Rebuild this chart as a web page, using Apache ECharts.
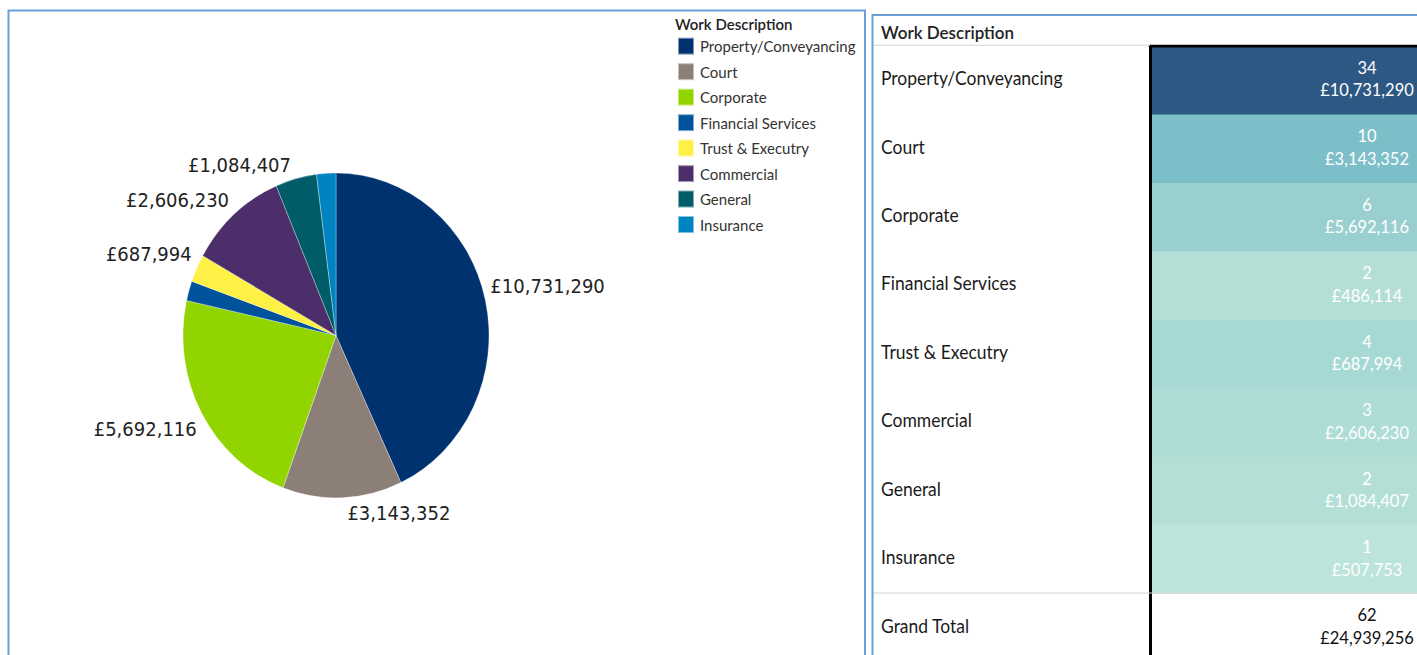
<!DOCTYPE html>
<html>
<head>
<meta charset="utf-8">
<title>Work Description</title>
<script src="https://cdn.jsdelivr.net/npm/echarts@6/dist/echarts.min.js"></script>
<style>
  html, body { margin: 0; padding: 0; background: #fff; overflow: hidden; }
  #wrap { width: 1417px; height: 655px; overflow: hidden; }
  /* the dashboard is laid out on a 617px-tall board and stretched to the window height;
     the board runs past the right and bottom edges, where the table is cut off */
  #chart { width: 1600px; height: 650px; transform: scaleY(1.0616); transform-origin: 0 0; }
</style>
</head>
<body>
<div id="wrap"><div id="chart"></div></div>
<script>
// Work types, fee totals (GBP) and matter counts
const categories = ['Property/Conveyancing', 'Court', 'Corporate', 'Financial Services',
                    'Trust & Executry', 'Commercial', 'General', 'Insurance'];
const amounts = [10731290, 3143352, 5692116, 486114, 687994, 2606230, 1084407, 507753];
const counts = [34, 10, 6, 2, 4, 3, 2, 1];
const totalLabel = 'Grand Total';

// Slice colours, one per work type
const sliceColors = ['#00326f', '#8b7f78', '#92d400', '#00539b', '#fff046', '#4b2e6a', '#005c69', '#0083c1'];
// Slices too thin to carry a label
const unlabelled = ['Financial Services', 'Insurance'];

const money = n => '£' + String(n).replace(/\B(?=(\d{3})+(?!\d))/g, ',');
const totalAmount = amounts.reduce((a, b) => a + b, 0);
const totalCount = counts.reduce((a, b) => a + b, 0);

// Slices start at 12 o'clock and run clockwise; a slice whose middle lies in the
// upper half gets its label lifted above the rim point, the others hang below it.
const sliceInUpperHalf = (() => {
  let acc = 0;
  return amounts.map(v => {
    const mid = (acc + v / 2) / totalAmount * 2 * Math.PI;
    acc += v;
    return Math.cos(mid) > 0;
  });
})();
const LABEL_LIFT = 13;
const LABEL_DROP = 15;

const UI_FONT = 'Lato, "Noto Sans", sans-serif';

// Table geometry
const TABLE_LEFT = 872.5;
const COL_X = 1150;
const ROW_TOP = 43.6;
const ROW_H = 64.5;

const chart = echarts.init(document.getElementById('chart'), null, { renderer: 'svg' });

chart.setOption({
  animation: false,
  backgroundColor: '#fff',
  title: [
    { text: 'Work Description', left: 675, top: 15, padding: 0,
      textStyle: { fontFamily: UI_FONT, fontSize: 15, fontWeight: 600, color: '#222' } },
    { text: 'Work Description', left: 881, top: 21.5, padding: 0,
      textStyle: { fontFamily: UI_FONT, fontSize: 17, fontWeight: 600, color: '#222' } }
  ],
  legend: {
    data: categories,
    orient: 'vertical',
    left: 677,
    top: 34.5,
    padding: 0,
    icon: 'rect',
    itemWidth: 16,
    itemHeight: 16,
    itemGap: 6,
    selectedMode: false,
    textStyle: { fontFamily: UI_FONT, fontSize: 15, color: '#333', padding: [0, 0, 0, 1] }
  },
  grid: { left: COL_X, top: ROW_TOP, width: 434, height: ROW_H * 9 },
  xAxis: {
    type: 'category',
    data: ['Amount'],
    position: 'top',
    z: 10,
    axisLine: { lineStyle: { color: '#000', width: 2.5 } },
    axisTick: { show: false },
    axisLabel: { show: false },
    splitLine: { show: false }
  },
  yAxis: {
    type: 'category',
    data: categories.concat([totalLabel]),
    inverse: true,
    z: 10,
    axisLine: { lineStyle: { color: '#000', width: 3 } },
    axisTick: { show: false },
    splitLine: { show: false },
    axisLabel: {
      align: 'left',
      margin: COL_X - 881,
      formatter: v => '{row|' + v + '}',
      rich: {
        row: {
          fontFamily: UI_FONT,
          fontSize: 17.5,
          color: '#1a1a1a',
          padding: [0, 0, 5, 0]
        }
      }
    }
  },
  visualMap: {
    type: 'piecewise',
    show: false,
    seriesIndex: 1,
    dimension: 2,
    pieces: [
      { gte: 20, color: '#2e5884' },
      { gte: 8, lt: 20, color: '#7dbfc8' },
      { gte: 5, lt: 8, color: '#9acfcf' },
      { gte: 4, lt: 5, color: '#a7d9d4' },
      { gte: 3, lt: 4, color: '#aedcd6' },
      { gte: 2, lt: 3, color: '#b4dfd7' },
      { lt: 2, color: '#bde4da' }
    ]
  },
  series: [
    {
      type: 'pie',
      center: [336, 316],
      radius: 153,
      startAngle: 90,
      clockwise: true,
      silent: true,
      avoidLabelOverlap: false,
      itemStyle: { borderColor: 'rgba(255,255,255,0.5)', borderWidth: 0.6 },
      label: {
        position: 'outside',
        fontFamily: '"DejaVu Sans", Verdana, sans-serif',
        fontSize: 18,
        color: '#222',
        formatter: p => money(p.value)
      },
      labelLine: { show: false, length: 0, length2: 0 },
      // labels sit beside the rim point: above it on the upper half, below it on the lower half
      labelLayout: p => ({
        dy: sliceInUpperHalf[p.dataIndex] ? -LABEL_LIFT : LABEL_DROP,
        hideOverlap: false
      }),
      data: categories.map((name, i) => ({
        name,
        value: amounts[i],
        itemStyle: { color: sliceColors[i] },
        label: { show: unlabelled.indexOf(name) < 0 }
      }))
    },
    {
      type: 'heatmap',
      silent: true,
      data: counts.map((c, i) => [0, i, c]),
      label: {
        show: true,
        fontFamily: UI_FONT,
        fontSize: 16.5,
        lineHeight: 21.5,
        color: '#fff',
        offset: [0, -2],
        formatter: p => p.data[2] + '\n' + money(amounts[p.data[1]])
      }
    },
    {
      type: 'heatmap',
      silent: true,
      data: [[0, categories.length, totalCount]],
      itemStyle: { color: '#fff' },
      label: {
        show: true,
        fontFamily: UI_FONT,
        fontSize: 16.5,
        lineHeight: 21.5,
        color: '#111',
        offset: [0, -2],
        formatter: p => p.data[2] + '\n' + money(totalAmount)
      }
    }
  ],
  graphic: [
    { type: 'rect', silent: true, z: 100,
      shape: { x: 8.5, y: 9.9, width: 856.5, height: 700 },
      style: { fill: 'none', stroke: '#6b9fda', lineWidth: 2 } },
    { type: 'rect', silent: true, z: 100,
      shape: { x: TABLE_LEFT, y: 14.1, width: 800, height: 700 },
      style: { fill: 'none', stroke: '#6b9fda', lineWidth: 2 } },
    { type: 'line', silent: true, z: 90,
      shape: { x1: TABLE_LEFT + 1, y1: ROW_TOP - 1, x2: COL_X, y2: ROW_TOP - 1 },
      style: { stroke: '#d4d4d4', lineWidth: 1 } },
    { type: 'line', silent: true, z: 90,
      shape: { x1: TABLE_LEFT + 1, y1: ROW_TOP + ROW_H * 8 - 1, x2: 1600, y2: ROW_TOP + ROW_H * 8 - 1 },
      style: { stroke: '#d4d4d4', lineWidth: 1 } }
  ]
});
</script>
</body>
</html>
